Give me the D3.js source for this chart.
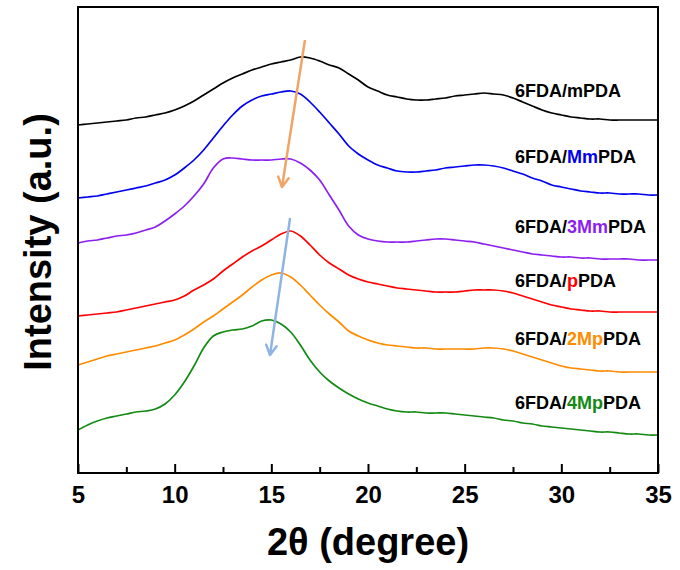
<!DOCTYPE html>
<html>
<head>
<meta charset="utf-8">
<script src="https://cdn.jsdelivr.net/npm/d3@7"></script>
<style>
  body { margin: 0; background: #fff; }
  text { font-family: "Liberation Sans", Arial, sans-serif; font-weight: bold; }
</style>
</head>
<body>
<div id="chart"></div>
<script>
// 2theta grid, 5 to 35 deg in 0.5 deg steps
const twoTheta = d3.range(61).map(i => 5 + i * 0.5);

// intensity (a.u., curves already offset)
const mPDA = [375,376,377,378,379,380,382,383,385,387,390,394,399,405,411,417,422,426,430,433,436,438,440,443,442,439,435,432,426,420,413,409,405,403,401,400,400,401,402,404,405,406,407,406,405,402,398,394,390,387,385,383,382,381,381,380,380,380,380,380,380];
const MmPDA = [302,303,304,306,308,310,312,314,317,320,325,332,340,350,362,374,385,394,400,404,406,408,409,406,398,388,377,366,354,346,340,335,332,329,328,328,329,330,332,333,334,335,335,334,332,329,326,322,319,315,313,311,309,308,307,307,306,306,306,305,305];
const Mm3PDA = [257,259,260,262,264,265,267,270,273,279,286,294,304,316,332,341,342,341,340,340,340,341,341,337,330,320,305,290,274,265,261,259,258,258,258,259,260,261,261,260,259,258,256,254,252,250,248,246,245,244,243,243,242,242,241,241,241,241,240,240,240];
const pPDA = [184,185,186,187,188,190,192,194,196,198,200,204,210,215,221,229,236,243,249,254,260,266,269,264,255,245,237,231,225,221,218,216,214,212,211,210,209,208,208,208,209,210,210,210,209,207,204,201,198,195,193,191,190,189,189,188,188,188,188,188,188];
const Mp2PDA = [135,138,141,144,146,148,150,152,154,157,160,165,171,178,184,191,198,205,213,220,225,227,223,215,205,195,186,178,169,164,160,157,155,154,153,152,152,151,151,151,151,151,152,152,151,149,146,143,140,137,134,132,131,130,129,129,128,128,128,128,128];
const Mp4PDA = [70,75,79,82,84,86,88,89,91,96,105,118,134,152,164,168,170,171,174,179,180,176,168,155,140,128,119,112,106,101,97,94,91,89,88,88,87,87,87,86,85,84,83,82,80,79,77,76,74,73,72,71,70,69,68,68,67,66,66,65,65];

const seriesValues = [mPDA, MmPDA, Mm3PDA, pPDA, Mp2PDA, Mp4PDA];
const seriesColors = ["#000000", "#0000f0", "#8c1ef0", "#ff0000", "#ff8c00", "#138a13"];
// label pieces: [prefix, coloured part, suffix]
const labelParts = [
  ["6FDA/mPDA", "", ""],
  ["6FDA/", "Mm", "PDA"],
  ["6FDA/", "3Mm", "PDA"],
  ["6FDA/", "p", "PDA"],
  ["6FDA/", "2Mp", "PDA"],
  ["6FDA/", "4Mp", "PDA"]
];
const labelX = 27.6;
const labelY = [403, 337, 267, 213, 155, 91];

// shift arrows, start and end in data units
const arrows = [
  { from: [16.74, 460], to: [15.55, 313], color: "#f0a468" },
  { from: [15.97, 282], to: [14.93, 145], color: "#8fb4e3" }
];

const majorTicks = [5, 10, 15, 20, 25, 30, 35];
const minorTicks = [7.5, 12.5, 17.5, 22.5, 27.5, 32.5];

const width = 680, height = 570;
const margin = { left: 78, right: 22, top: 7, bottom: 97 };

const svg = d3.select("#chart").append("svg")
  .attr("width", width)
  .attr("height", height);

let x = d3.scaleLinear()
  .domain([5, 35])
  .range([margin.left, width - margin.right]);

let y = d3.scaleLinear()
  .domain([27, 493])
  .range([height - margin.bottom, margin.top]);

let line = d3.line()
  .x(d => x(d[0]))
  .y(d => y(d[1]))
  .curve(d3.curveCatmullRom.alpha(0.5));

let plotG = svg.append("g");

seriesValues.forEach(function(vals, i) {
  plotG.append("path")
    .datum(twoTheta.map((t, j) => [t, vals[j]]))
    .attr("fill", "none")
    .attr("stroke", seriesColors[i])
    .attr("stroke-width", 1.7)
    .attr("stroke-linejoin", "round")
    .attr("d", line);
});

// arrows with open heads
arrows.forEach(function(a) {
  let x1 = x(a.from[0]), y1 = y(a.from[1]);
  let x2 = x(a.to[0]), y2 = y(a.to[1]);
  plotG.append("line")
    .attr("x1", x1).attr("y1", y1)
    .attr("x2", x2).attr("y2", y2)
    .attr("stroke", a.color)
    .attr("stroke-width", 2.5);
  let ang = Math.atan2(y2 - y1, x2 - x1);
  let len = 11, spread = 0.5;
  let head = [
    [x2 - len * Math.cos(ang - spread), y2 - len * Math.sin(ang - spread)],
    [x2, y2],
    [x2 - len * Math.cos(ang + spread), y2 - len * Math.sin(ang + spread)]
  ];
  plotG.append("path")
    .attr("d", d3.line()(head))
    .attr("fill", "none")
    .attr("stroke", a.color)
    .attr("stroke-width", 2.5)
    .attr("stroke-linecap", "round")
    .attr("stroke-linejoin", "round");
});

// curve labels
labelParts.forEach(function(p, i) {
  let t = plotG.append("text")
    .attr("x", x(labelX))
    .attr("y", y(labelY[i]))
    .attr("font-size", 18)
    .attr("fill", "#000");
  t.append("tspan").text(p[0]);
  if (p[1]) t.append("tspan").attr("fill", seriesColors[i]).text(p[1]);
  if (p[2]) t.append("tspan").text(p[2]);
});

// frame
svg.append("rect")
  .attr("x", margin.left)
  .attr("y", margin.top)
  .attr("width", width - margin.left - margin.right)
  .attr("height", height - margin.top - margin.bottom)
  .attr("fill", "none")
  .attr("stroke", "#000")
  .attr("stroke-width", 2);

let xAxis = d3.axisBottom(x)
  .tickValues(majorTicks)
  .tickSize(-9)
  .tickPadding(13)
  .tickFormat(d3.format("d"));

let xAxisG = svg.append("g")
  .attr("class", "axis x")
  .attr("transform", "translate(0," + (height - margin.bottom) + ")")
  .call(xAxis);
xAxisG.select(".domain").remove();
xAxisG.selectAll(".tick line").attr("stroke-width", 2);
xAxisG.selectAll(".tick text")
  .attr("font-size", 24)
  .attr("font-family", "Liberation Sans, Arial, sans-serif")
  .attr("font-weight", "bold")
  .attr("fill", "#000");

let minorAxisG = svg.append("g")
  .attr("transform", "translate(0," + (height - margin.bottom) + ")")
  .call(d3.axisBottom(x).tickValues(minorTicks).tickSize(-6).tickFormat(""));
minorAxisG.select(".domain").remove();
minorAxisG.selectAll(".tick line").attr("stroke-width", 2);

svg.append("text")
  .attr("x", (margin.left + width - margin.right) / 2)
  .attr("y", 555)
  .attr("text-anchor", "middle")
  .attr("font-size", 38)
  .text("2θ (degree)");

svg.append("text")
  .attr("transform", "translate(51," + ((margin.top + height - margin.bottom) / 2 + 2) + ") rotate(-90)")
  .attr("text-anchor", "middle")
  .attr("font-size", 38)
  .text("Intensity (a.u.)");
</script>
</body>
</html>
